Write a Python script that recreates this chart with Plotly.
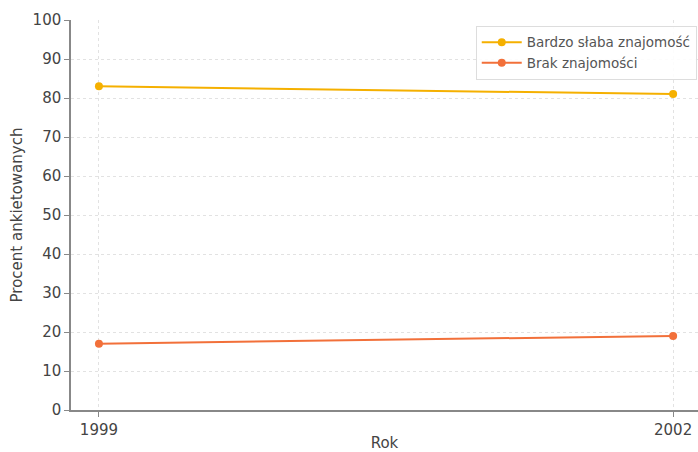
import plotly.graph_objects as go

years = [1999, 2002]
bardzo_slaba = [83, 81]
brak = [17, 19]

series_names = ["Bardzo słaba znajomość", "Brak znajomości"]
series_colors = ["#F5B000", "#F2703A"]

fig = go.Figure()
for name, vals, col in zip(series_names, [bardzo_slaba, brak], series_colors):
    fig.add_trace(go.Scatter(
        x=years, y=vals, mode="lines+markers", name=name,
        line=dict(color=col, width=2), marker=dict(color=col, size=8),
    ))

axis_font = dict(family="DejaVu Sans", size=15, color="#444444")
title_font = dict(family="DejaVu Sans", size=15, color="#444444")
fig.update_layout(
    width=698, height=452,
    margin=dict(l=71, r=0, t=20, b=42),
    paper_bgcolor="white", plot_bgcolor="white",
    font=dict(family="DejaVu Sans", color="#444444"),
    showlegend=True,
    legend=dict(
        x=0.998, y=0.985, xanchor="right", yanchor="top",
        bgcolor="rgba(255,255,255,0.9)", bordercolor="#DDDDDD", borderwidth=1,
        font=dict(family="DejaVu Sans", size=13.5, color="#555555"),
        itemwidth=40,
    ),
    xaxis=dict(
        range=[1998.854, 2002.13], tickvals=years, ticktext=[str(y) for y in years],
        showline=True, linecolor="#888888", linewidth=1.5,
        ticks="outside", ticklen=5, tickcolor="#888888",
        showgrid=True, gridcolor="#E2E2E2", griddash="dot",
        zeroline=False, tickfont=axis_font, automargin=False,
        title=dict(text="Rok", font=title_font, standoff=4),
    ),
    yaxis=dict(
        range=[0, 100], tickvals=list(range(0, 101, 10)),
        showline=True, linecolor="#888888", linewidth=1.5,
        ticks="outside", ticklen=5, tickcolor="#888888",
        showgrid=True, gridcolor="#E2E2E2", griddash="dot",
        zeroline=False, tickfont=axis_font, automargin=False,
        title=dict(text="Procent ankietowanych", font=title_font, standoff=6),
    ),
)

fig.write_html("out.html")
